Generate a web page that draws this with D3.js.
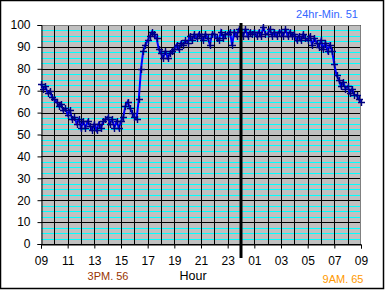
<!DOCTYPE html>
<html>
<head>
<meta charset="utf-8">
<script src="https://cdn.jsdelivr.net/npm/d3@7"></script>
<style>
  body { margin: 0; background: #fff; }
  text { font-family: "Liberation Sans", Arial, sans-serif; }
</style>
</head>
<body>
<div id="chart"></div>
<script>
// readings every 10 minutes, 09:00 -> 09:00 next day
const START_HOUR = 9;
const STEP_MIN = 10;
const readings = [
    73, 71, 72, 69, 70, 67,   // 09
    66, 65, 63, 64, 61, 62,   // 10
    59, 61, 57, 58, 55, 57,   // 11
    53, 56, 53, 56, 54, 52,   // 12
    55, 52, 55, 53, 56, 57,   // 13
    58, 55, 57, 53, 56, 53,   // 14
    56, 58, 63, 65, 62, 60,   // 15
    58, 57, 66, 80, 88, 91,   // 16
    93, 95, 97, 96, 94, 89,   // 17
    87, 85, 88, 85, 87, 88,   // 18
    89, 91, 89, 92, 91, 93,   // 19
    92, 95, 93, 96, 94, 96,   // 20
    95, 93, 96, 94, 91, 96,   // 21
    96, 94, 93, 97, 94, 96,   // 22
    96, 97, 91, 97, 95, 98,   // 23
    97, 95, 98, 95, 97, 96,   // 00
    97, 95, 97, 95, 99, 96,   // 01
    96, 98, 95, 97, 95, 97,   // 02
    97, 95, 98, 95, 97, 95,   // 03
    96, 93, 95, 93, 96, 94,   // 04
    93, 95, 91, 94, 92, 90,   // 05
    93, 89, 92, 88, 91, 88,   // 06
    82, 77, 75, 72, 74, 71,   // 07
    72, 69, 71, 68, 68, 66,   // 08
    65                        // 09
];
const hourLabels = ["09", "11", "13", "15", "17", "19", "21", "23", "01", "03", "05", "07", "09"];
const yTicks = [0, 10, 20, 30, 40, 50, 60, 70, 80, 90, 100];
const minorStep = 2.5;
const midnightHour = 15;   // hours after start
const notes = { min: "24hr-Min. 51", pm3: "3PM. 56", am9: "9AM. 65" };

const W = 385, H = 290;
const plot = { left: 41, right: 361, top: 25, bottom: 244 };

const svg = d3.select("#chart").append("svg")
    .attr("width", W)
    .attr("height", H);

svg.append("rect")
    .attr("x", 0.5).attr("y", 0.5)
    .attr("width", W - 2).attr("height", H - 2)
    .attr("fill", "#fff")
    .attr("stroke", "#000")
    .attr("stroke-width", 1.5);

const x = d3.scaleLinear().domain([0, 24]).range([plot.left, plot.right]);
const y = d3.scaleLinear().domain([0, 100]).range([plot.bottom, plot.top]);

// plot area
svg.append("rect")
    .attr("x", plot.left).attr("y", plot.top)
    .attr("width", plot.right - plot.left)
    .attr("height", plot.bottom - plot.top)
    .attr("fill", "#c0c0c0");

// minor horizontal gridlines (cyan)
svg.append("g")
    .attr("transform", "translate(" + plot.left + ",0)")
    .call(d3.axisLeft(y).tickValues(d3.range(minorStep, 100, minorStep).filter(v => v % 10 != 0))
        .tickSize(-(plot.right - plot.left)).tickFormat(""))
    .call(g => g.select(".domain").remove())
    .call(g => g.selectAll("line").attr("stroke", "#00ffff").attr("shape-rendering", "crispEdges"));

// major horizontal gridlines
svg.append("g")
    .attr("transform", "translate(" + plot.left + ",0)")
    .call(d3.axisLeft(y).tickValues(yTicks).tickSize(-(plot.right - plot.left)).tickFormat(""))
    .call(g => g.select(".domain").remove())
    .call(g => g.selectAll("line").attr("stroke", "#000").attr("shape-rendering", "crispEdges"));

// vertical gridlines every hour
svg.append("g")
    .attr("transform", "translate(0," + plot.bottom + ")")
    .call(d3.axisBottom(x).tickValues(d3.range(1, 24)).tickSize(-(plot.bottom - plot.top)).tickFormat(""))
    .call(g => g.select(".domain").remove())
    .call(g => g.selectAll("line").attr("stroke", "#000").attr("shape-rendering", "crispEdges"));

// plot border top / right (gray)
svg.append("path")
    .attr("d", "M" + plot.left + "," + (plot.top + 0.5) + "H" + (plot.right - 0.5) + "V" + plot.bottom)
    .attr("fill", "none")
    .attr("stroke", "#808080");

// y axis
const yAxis = svg.append("g")
    .attr("transform", "translate(" + (plot.left + 0.5) + ",0)")
    .call(d3.axisLeft(y).tickValues(yTicks).tickSize(4).tickPadding(7))
    .call(g => g.select(".domain").attr("stroke", "#000"));
yAxis.selectAll("text")
    .style("font-size", "12px")
    .attr("fill", "#000");

// x axis
const xAxis = svg.append("g")
    .attr("transform", "translate(0," + (plot.bottom + 0.5) + ")")
    .call(d3.axisBottom(x).tickValues(d3.range(0, 25, 2)).tickSize(4).tickPadding(8)
        .tickFormat((d, i) => hourLabels[i]))
    .call(g => g.select(".domain").attr("stroke", "#000"));
xAxis.selectAll("text")
    .style("font-size", "12px")
    .attr("fill", "#000");

// data
const pts = readings.map((v, i) => ({ t: i * STEP_MIN / 60, v: v }));

svg.append("path")
    .datum(pts)
    .attr("fill", "none")
    .attr("stroke", "#0000ff")
    .attr("stroke-width", 2)
    .attr("d", d3.line().x(d => x(d.t)).y(d => y(d.v)));

svg.append("g")
    .selectAll("path")
    .data(pts)
    .join("path")
    .attr("transform", d => "translate(" + Math.round(x(d.t)) + "," + Math.round(y(d.v)) + ")")
    .attr("d", "M-3,0.5H4M0.5,-3V4")
    .attr("stroke", "#000080")
    .attr("stroke-width", 1.4)
    .attr("fill", "none");

// midnight marker
svg.append("line")
    .attr("x1", x(midnightHour)).attr("x2", x(midnightHour))
    .attr("y1", plot.top - 2).attr("y2", 258)
    .attr("stroke", "#000")
    .attr("stroke-width", 3);

// titles / notes
svg.append("text")
    .attr("x", 193).attr("y", 280)
    .attr("text-anchor", "middle")
    .style("font-size", "12.5px")
    .text("Hour");

svg.append("text")
    .attr("x", 108).attr("y", 280)
    .attr("text-anchor", "middle")
    .style("font-size", "11px")
    .attr("fill", "#993300")
    .text(notes.pm3);

svg.append("text")
    .attr("x", 343).attr("y", 283)
    .attr("text-anchor", "middle")
    .style("font-size", "11px")
    .attr("fill", "#ff9900")
    .text(notes.am9);

svg.append("text")
    .attr("x", 327).attr("y", 18)
    .attr("text-anchor", "middle")
    .style("font-size", "11px")
    .attr("fill", "#3366ff")
    .text(notes.min);
</script>
</body>
</html>
